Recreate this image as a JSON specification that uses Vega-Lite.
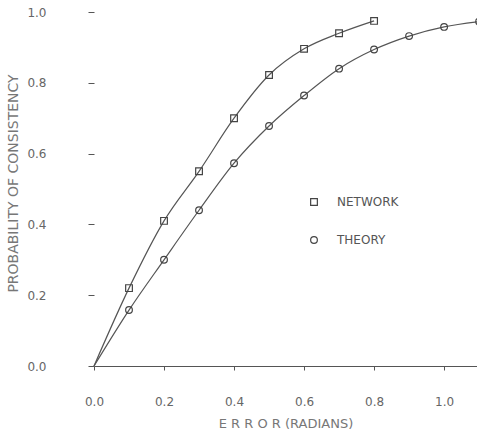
{
  "$schema": "https://vega.github.io/schema/vega-lite/v6.json",
  "width": 383,
  "height": 366,
  "autosize": {"type": "none"},
  "padding": {"left": 94, "top": 0, "right": 0, "bottom": 73},
  "background": "white",
  "config": {
    "view": {"stroke": null},
    "font": "DejaVu Sans",
    "axis": {"grid": false, "labelColor": "#666", "titleColor": "#777", "tickColor": "#555", "domainColor": "#555", "labelFont": "DejaVu Sans", "titleFont": "DejaVu Sans", "titleFontWeight": "normal"}
  },
  "data": {"values": [
    {"x": 0.0, "p": 0.0, "series": "NETWORK"},
    {"x": 0.1, "p": 0.22, "series": "NETWORK"},
    {"x": 0.2, "p": 0.41, "series": "NETWORK"},
    {"x": 0.3, "p": 0.55, "series": "NETWORK"},
    {"x": 0.4, "p": 0.70, "series": "NETWORK"},
    {"x": 0.5, "p": 0.822, "series": "NETWORK"},
    {"x": 0.6, "p": 0.896, "series": "NETWORK"},
    {"x": 0.7, "p": 0.94, "series": "NETWORK"},
    {"x": 0.8, "p": 0.975, "series": "NETWORK"},
    {"x": 0.0, "p": 0.0, "series": "THEORY"},
    {"x": 0.1, "p": 0.158, "series": "THEORY"},
    {"x": 0.2, "p": 0.30, "series": "THEORY"},
    {"x": 0.3, "p": 0.44, "series": "THEORY"},
    {"x": 0.4, "p": 0.573, "series": "THEORY"},
    {"x": 0.5, "p": 0.678, "series": "THEORY"},
    {"x": 0.6, "p": 0.764, "series": "THEORY"},
    {"x": 0.7, "p": 0.84, "series": "THEORY"},
    {"x": 0.8, "p": 0.894, "series": "THEORY"},
    {"x": 0.9, "p": 0.932, "series": "THEORY"},
    {"x": 1.0, "p": 0.958, "series": "THEORY"},
    {"x": 1.1, "p": 0.973, "series": "THEORY"}
  ]},
  "encoding": {
    "x": {"field": "x", "type": "quantitative",
      "scale": {"domain": [0, 1.094], "nice": false, "zero": true},
      "axis": {"values": [0, 0.2, 0.4, 0.6, 0.8, 1.0], "format": ".1f", "title": "E R R O R   (RADIANS)", "labelPadding": 26, "labelFontSize": 12, "titleFontSize": 13, "titlePadding": 10, "tickSize": 4, "domainWidth": 1, "labelFlush": false}},
    "y": {"field": "p", "type": "quantitative",
      "scale": {"domain": [0, 1.034], "nice": false},
      "axis": {"values": [0, 0.2, 0.4, 0.6, 0.8, 1.0], "format": ".1f", "title": "PROBABILITY  OF  CONSISTENCY", "labelPadding": 42, "labelFontSize": 12, "titleFontSize": 14, "titlePadding": 6, "tickSize": 6, "domain": false, "labelFlush": false}}
  },
  "layer": [
    {
      "mark": {"type": "line", "interpolate": "monotone", "color": "#555", "strokeWidth": 1.2},
      "encoding": {"detail": {"field": "series"}}
    },
    {
      "transform": [{"filter": "datum.x > 0"}],
      "mark": {"type": "point", "filled": false, "color": "#444", "strokeWidth": 1.2, "size": 45, "opacity": 1},
      "encoding": {
        "shape": {"field": "series", "type": "nominal",
          "scale": {"domain": ["NETWORK", "THEORY"], "range": ["square", "circle"]},
          "legend": {"title": null, "orient": "none", "legendX": 214, "legendY": 196, "labelFontSize": 12, "labelColor": "#555", "rowPadding": 26, "labelOffset": 17, "symbolSize": 45, "symbolStrokeWidth": 1.2}}
      }
    }
  ]
}
